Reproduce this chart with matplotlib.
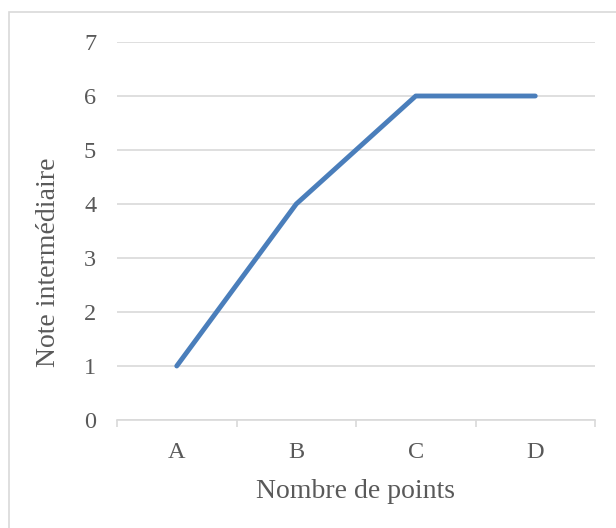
import matplotlib.pyplot as plt
from matplotlib.patches import Rectangle

# Data
categories = ['A', 'B', 'C', 'D']
values = [1, 4, 6, 6]
y_ticks = [0, 1, 2, 3, 4, 5, 6, 7]

W, H = 616, 528
text_color = '#595959'
grid_color = '#d9d9d9'
line_color = '#4a7ebb'

plt.rcParams['font.family'] = ['Liberation Serif', 'DejaVu Serif']

fig = plt.figure(figsize=(W / 100, H / 100), dpi=100)

# Outer chart border (runs off the right/bottom edge)
fig.patches.append(Rectangle((9 / W, -0.2), 1.2, 1.2 - 12 / H, transform=fig.transFigure,
                             fill=False, edgecolor=grid_color, linewidth=1.2))

ax = fig.add_axes([117 / W, 1 - 420 / H, (595 - 117) / W, (420 - 42) / H])
x = list(range(len(categories)))
ax.plot(x, values, color=line_color, linewidth=3.5, solid_capstyle='round',
        solid_joinstyle='round', zorder=3)

ax.set_xlim(-0.5, len(categories) - 0.5)
ax.set_ylim(0, 7)
ax.set_yticks(y_ticks)
ax.set_xticks(x)
ax.set_xticklabels(categories)
ax.set_xticks([i - 0.5 for i in range(len(categories) + 1)], minor=True)

ax.grid(axis='y', color=grid_color, linewidth=1.2)
ax.set_axisbelow(True)
for s in ['top', 'right', 'left']:
    ax.spines[s].set_visible(False)
ax.spines['bottom'].set_color(grid_color)
ax.spines['bottom'].set_linewidth(1.2)

ax.tick_params(axis='x', which='major', length=0, pad=16, labelsize=17.5, labelcolor=text_color)
ax.tick_params(axis='x', which='minor', length=5, width=1.2, color=grid_color)
ax.tick_params(axis='y', length=0, pad=15, labelsize=17.5, labelcolor=text_color)

ax.set_xlabel('Nombre de points', fontsize=20, color=text_color, labelpad=11)
ax.set_ylabel('Note intermédiaire', fontsize=20, color=text_color)
# title sits a bit below the middle of the plot, as in the original
ax.yaxis.set_label_coords((61 - 117) / 478, (420 - 262) / 378)

fig.savefig('out.png', dpi=100)
